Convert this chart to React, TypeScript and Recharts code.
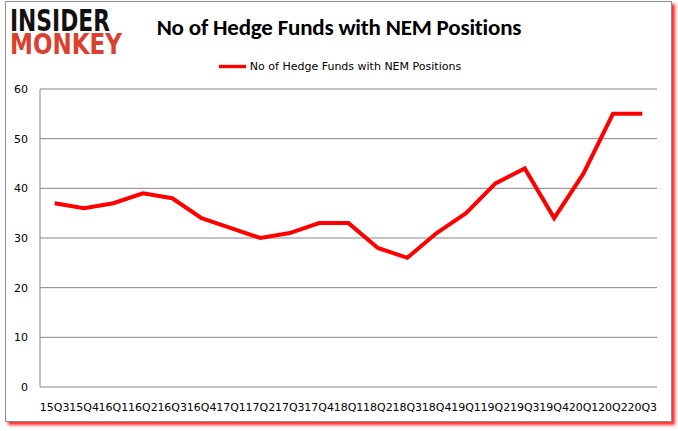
import { CartesianGrid, Legend, Line, LineChart, XAxis, YAxis } from 'recharts';

const quarters = [
  '15Q3', '15Q4', '16Q1', '16Q2', '16Q3', '16Q4', '17Q1', '17Q2', '17Q3', '17Q4', '18Q1',
  '18Q2', '18Q3', '18Q4', '19Q1', '19Q2', '19Q3', '19Q4', '20Q1', '20Q2', '20Q3',
];
const funds = [37, 36, 37, 39, 38, 34, 32, 30, 31, 33, 33, 28, 26, 31, 35, 41, 44, 34, 43, 55, 55];
const yTicks = [0, 10, 20, 30, 40, 50, 60];
const edgeTicks = quarters.map((_, i) => i).concat(quarters.length);

const seriesName = 'No of Hedge Funds with NEM Positions';
const font = 'Tahoma, "DejaVu Sans", Verdana, sans-serif';

const data = quarters.map((q, i) => ({ q, value: funds[i] }));

const W = 678;
const H = 431;
const plotLeft = 40;
const plotRight = 657;
const half = (plotRight - plotLeft) / quarters.length / 2;

export default function App() {
  return (
    <div style={{ position: 'absolute', left: 0, top: 0, width: W, height: H, background: '#fff', fontFamily: font }}>
      {/* frame with red drop shadow */}
      <div
        style={{
          position: 'absolute',
          left: 5,
          top: 1,
          width: 665,
          height: 419,
          border: '1px solid #8c8c8c',
          boxShadow: '3px 3px 3px rgba(255,0,0,0.85)',
          background: '#fff',
        }}
      />
      <div style={{ position: 'absolute', left: 0, top: 0 }}>
        <LineChart
          width={W}
          height={H}
          data={data}
          margin={{ top: 89, right: W - plotRight, bottom: 0, left: 0 }}
        >
          <CartesianGrid vertical={false} stroke="#868686" strokeWidth={1} />
          <XAxis
            dataKey="q"
            interval={0}
            padding={{ left: half, right: half }}
            tickLine={false}
            axisLine={false}
            tick={{ fill: '#000', fontSize: 11, fontFamily: font }}
            tickMargin={10}
            height={44}
          />
          <XAxis
            xAxisId="edges"
            type="number"
            domain={[0, quarters.length]}
            ticks={edgeTicks}
            tick={false}
            tickSize={5}
            stroke="#868686"
            height={0}
            orientation="bottom"
          />
          <YAxis
            domain={[0, 60]}
            ticks={yTicks}
            width={plotLeft}
            tickLine={false}
            stroke="#868686"
            tick={{ fill: '#000', fontSize: 11, fontFamily: font }}
            tickMargin={6}
          />
          <Legend
            verticalAlign="middle"
            align="center"
            iconType="plainline"
            iconSize={27}
            wrapperStyle={{ top: 53, left: 6, width: W, fontSize: 11, fontFamily: font }}
            formatter={(v) => <span style={{ color: '#000' }}>{v}</span>}
          />
          <Line
            name={seriesName}
            dataKey="value"
            stroke="#ff0000"
            strokeWidth={4}
            dot={false}
            activeDot={false}
            isAnimationActive={false}
          />
        </LineChart>
      </div>
      {/* title */}
      <div
        style={{
          position: 'absolute',
          left: 100,
          width: 478,
          top: 13,
          textAlign: 'center',
          fontSize: 23,
          fontWeight: 'bold',
          color: '#000',
          fontFamily: 'Calibri, "Open Sans", "DejaVu Sans", sans-serif',
          letterSpacing: -0.2,
        }}
      >
        No of Hedge Funds with NEM Positions
      </div>
      {/* logo */}
      <svg style={{ position: 'absolute', left: 0, top: 0 }} width={200} height={70}>
        <text fontWeight={900} fontFamily='"DejaVu Sans", sans-serif'>
          <tspan x={10} y={31} fontSize={30} textLength={100} lengthAdjust="spacingAndGlyphs" fill="#111">
            INSIDER
          </tspan>
          <tspan x={10} y={54} fontSize={29} textLength={112} lengthAdjust="spacingAndGlyphs" fill="#d9412e">
            MONKEY
          </tspan>
        </text>
      </svg>
    </div>
  );
}
